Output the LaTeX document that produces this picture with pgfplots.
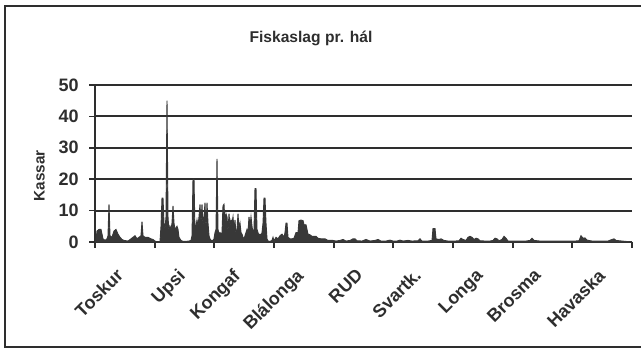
\documentclass[border=0pt]{standalone}
\usepackage{pgfplots}
\pgfplotsset{compat=1.18}
\usepackage{fontspec}
\setmainfont{Liberation Sans}

\definecolor{ink}{gray}{0.18}
\definecolor{fillc}{gray}{0.22}

\begin{document}
\begin{tikzpicture}
% page size and outer frame (1px = 0.75pt)
\useasboundingbox (0,0) rectangle (480.75pt,262.5pt);
\draw[ink, line width=1.5pt] (500pt,258pt) -- (3.75pt,258pt) -- (3.75pt,2.25pt) -- (500pt,2.25pt);

\node[ink, font=\bfseries\fontsize{11.7}{14}\selectfont] at (233.25pt,234pt) {Fiskaslag pr. hál};
\node[ink, font=\bfseries\fontsize{11.5}{13}\selectfont, rotate=90] at (29.5pt,130.5pt) {Kassar};

\begin{axis}[
  at={(71.25pt,81pt)}, anchor=south west,
  scale only axis, width=402.75pt, height=117.75pt,
  xmin=95, xmax=632, ymin=0, ymax=50,
  axis x line=bottom, axis y line=left,
  axis line style={-, line width=1.6pt, ink},
  ytick={0,10,20,30,40,50},
  ymajorgrids, grid style={line width=1.5pt, ink},
  xtick={95,154.67,214.33,274,333.67,393.33,453,512.67,572.33,632},
  xticklabels={},
  extra x ticks={115,177,232,295,355,413,475,533,597},
  extra x tick labels={Toskur,Upsi,Kongaf,Blálonga,RUD,Svartk.,Longa,Brosma,Havaska},
  extra x tick style={major tick length=0pt,
    xticklabel style={yshift=-19pt, rotate=45, anchor=north east, inner sep=0pt}},
  tick align=outside,
  major tick length=4.5pt,
  every tick/.style={line width=1.3pt, ink},
  /pgf/number format/assume math mode=true,
  tick label style={font=\bfseries\fontsize{13.5}{15}\selectfont, text=ink},
  yticklabel style={anchor=east, inner sep=0pt, xshift=-7.5pt},
]
\addplot[fill=fillc, draw=fillc, line width=0.7pt] table {
x y
95 0
96 0.5
97 3.5
99 4
101 4
103 1
105 0.5
107 1
108 2
109 12
110 2
112 1.5
114 3.5
116 4
118 2.5
120 1.5
122 0.8
124 0.5
128 0.3
131 1
133 1.5
135 2
137 1
139 1.5
141 2
142 6.5
143 2
145 1.5
148 1.5
151 1
153 0.8
155 0.3
157 0
160 0.2
161 5
162 14
163 14
164 6
165 4
166 8
167 45
168 8
169 3
170 5
171 4
172 6
173 11.5
174 6
175 4
177 5
178 4
179 1.5
181 0.5
183 0.2
186 0.2
189 0.3
191 0.5
192 2
193 20
194 20
195 3
196 5
197 7
198 5
199 8
200 12
201 6
202 12
203 5
204 8
205 12.5
206 4
207 12.5
208 6
209 2
210 1
211 0.5
213 0.5
214 1
215 3
216 4
217 26.5
218 4
219 2.5
220 3
221 2.5
222 3
223 11.5
224 12
225 6
226 9
227 8
228 3
229 9
230 5
231 7
232 6
233 8
234 4
235 7
236 2
237 4
238 9
239 4
240 6
241 3
242 2.5
243 1.5
244 1
245 2
246 3
247 4
248 3
249 8
250 5
251 8
252 5
253 3
254 4
255 17
256 17
257 4
258 3
259 2
260 2.5
261 2
262 3
263 6
264 14
265 14
266 6
267 1
268 0.3
270 0.2
272 0.5
273 1.5
274 0.3
276 1.5
278 1
280 2
282 2.5
284 1.5
285 3
286 6
287 6
288 1.5
290 1
292 1
294 1.2
296 3
298 3
299 6.8
301 7
303 6.8
304 5.5
306 5.5
308 2.5
310 2.3
312 1.8
316 1.8
318 1.2
321 1
325 1
328 0.5
333 0.5
336 0.3
340 0.5
343 0.8
346 0.3
350 0.5
353 1
355 1
357 0.4
362 0.3
366 0.8
370 0.3
375 0.5
378 0.8
381 0.3
386 0.3
390 0.6
393 0.3
397 0.3
400 0.6
403 0.3
408 0.5
412 0.3
418 0.4
420 1
422 0.3
428 0.3
432 0.5
433 4.3
435 4.3
436 1
439 0.8
441 1
444 0.5
448 0.3
455 0.3
459 0.4
461 1.2
463 0.8
466 0.5
468 1.5
470 1.8
472 1.5
474 0.8
476 1.2
478 1
480 0.4
485 0.3
490 0.3
493 0.5
495 1.2
497 1
499 0.4
502 0.8
504 1.8
506 1.2
508 0.3
513 0.3
520 0.3
526 0.3
530 0.5
532 1.2
534 0.5
540 0.3
548 0.3
555 0.3
563 0.3
570 0.3
575 0.3
579 0.4
581 2
583 1.2
585 1.3
587 0.6
592 0.3
600 0.3
608 0.3
612 0.8
614 1
616 0.5
622 0.3
632 0
} \closedcycle;
\end{axis}
\end{tikzpicture}
\end{document}
